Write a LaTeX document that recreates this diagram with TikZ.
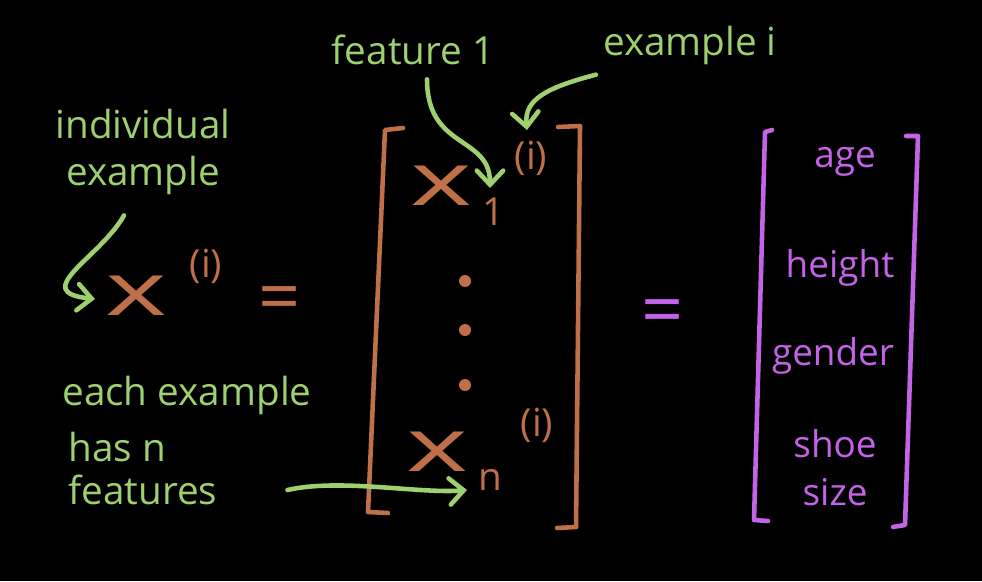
\documentclass[tikz,border=0pt]{standalone}
\usepackage{fontspec}
\setmainfont{Open Sans}
\usetikzlibrary{arrows.meta, positioning, calc}
\definecolor{chalkgreen}{RGB}{158,208,112}
\definecolor{chalkorange}{RGB}{192,112,72}
\definecolor{chalkpurple}{RGB}{196,98,232}
\newcommand{\wideX}{\scalebox{1.6}[1]{x}}

\begin{document}
\begin{tikzpicture}[
    x=0.02cm, y=-0.02cm,
    note/.style={text=chalkgreen, inner sep=0pt, font=\fontsize{22}{27}\selectfont},
    vecsym/.style={text=chalkorange, inner sep=0pt, font=\fontsize{42}{42}\selectfont},
    vecidx/.style={text=chalkorange, inner sep=0pt, font=\fontsize{22}{22}\selectfont},
    attr/.style={text=chalkpurple, inner sep=0pt, font=\fontsize{21}{21}\selectfont},
    bracket/.style={line width=2.6pt, line cap=round, line join=round},
    pointer/.style={draw=chalkgreen, line width=2.6pt, line cap=round,
        -{Straight Barb[length=8pt, width=15pt, line cap=round]}}
]
\fill[black] (0,0) rectangle (982,581);
\useasboundingbox (0,0) rectangle (982,581);

% labels
\node[note] (feat1) at (413,50) {feature 1};
\node[note] (exi) at (690,45) {example i};
\node[note, align=center] (indiv) at (143,152) {individual\\example};
\node[note, anchor=west] (each) at (62,395) {each example};
\node[note, anchor=west] (hasn) at (68,447) {has n};
\node[note, anchor=west] (feats) at (68,490) {features};

% single example
\node[vecsym] (xvec) at (136,296) {\wideX};
\node[vecidx] (xsup) at (206,266) {(i)};
\node[vecsym] (eqa) at (280,305) {=};

% feature vector
\draw[bracket, chalkorange] (403,128) -- (385,130) -- (368,512) -- (388,513);
\draw[bracket, chalkorange] (558,127) -- (580,126) -- (576,527) -- (557,528);
\node[vecsym] (x1) at (441,186) {\wideX};
\node[vecidx] (sub1) at (494,212) {1};
\node[vecidx] (sup1) at (531,158) {(i)};
\foreach \yy in {281,330,385}
    \fill[chalkorange] (465,\yy) circle (6);
\node[vecsym] (xn) at (437,452) {\wideX};
\node[vecidx] (subn) at (490,480) {n};
\node[vecidx] (supn) at (537,425) {(i)};

% attributes
\node[vecsym, text=chalkpurple] (eqb) at (663,318) {=};
\draw[bracket, chalkpurple] (772,130) -- (765,132) -- (754,520) -- (768,521);
\draw[bracket, chalkpurple] (906,136) -- (918,136) -- (905,525) -- (893,527);
\node[attr] (age) at (845,162) {age};
\node[attr] (hgt) at (840,268) {height};
\node[attr] (gen) at (833,356) {gender};
\node[attr] (shoe) at (835,444) {shoe};
\node[attr] (size) at (835,492) {size};

% arrows
\coordinate (x1tip) at (490,188);
\coordinate (suptip) at (527,130);
\coordinate (xtip) at (95,299);
\coordinate (xntip) at (467,490);
\draw[pointer] ($(feat1.south)+(14,14)$) .. controls (427,150) and (490,135) .. (x1tip);
\draw[pointer] ($(exi.south west)+(-7,10)$) .. controls (545,88) and (524,100) .. (suptip);
\draw[pointer] ($(indiv.south)+(-19,20)$) .. controls (100,258) and (28,292) .. (xtip);
\draw[pointer] ($(feats.east)+(70,0)$) .. controls (340,478) and (420,494) .. (xntip);

\end{tikzpicture}
\end{document}
